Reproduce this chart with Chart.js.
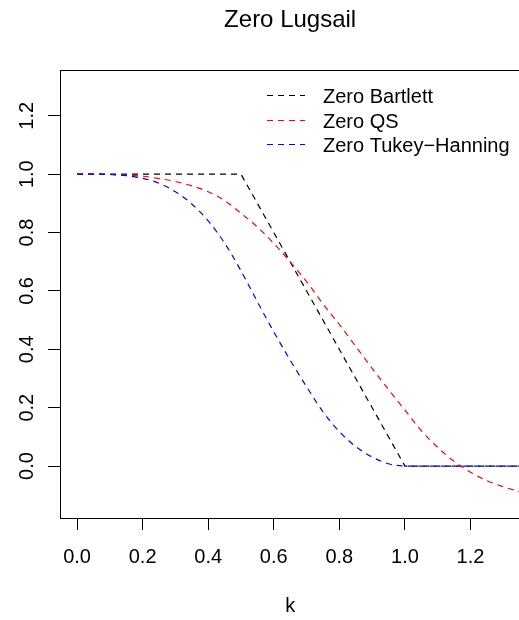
<!DOCTYPE html>
<html>
<head>
<meta charset="utf-8">
<script src="https://cdn.jsdelivr.net/npm/chart.js@4.4.1/dist/chart.umd.min.js"></script>
<style>
  html, body { margin: 0; padding: 0; background: #ffffff; }
  canvas { display: block; }
</style>
</head>
<body>
<canvas id="grafica" width="519" height="620"></canvas>
<script>
// values
const kGrid = [0, 0.05, 0.10, 0.15, 0.20, 0.25, 0.30, 0.35, 0.40, 0.45, 0.50, 0.55, 0.60, 0.65,
               0.70, 0.75, 0.80, 0.85, 0.90, 0.95, 1.00, 1.05, 1.10, 1.15, 1.20, 1.25, 1.30, 1.35];
const zeroQS = [1.000, 1.000, 0.999, 0.997, 0.993, 0.985, 0.975, 0.960, 0.940, 0.910, 0.866, 0.819, 0.763, 0.700,
                0.632, 0.556, 0.485, 0.410, 0.335, 0.262, 0.192, 0.121, 0.064, 0.016, -0.021, -0.050, -0.071, -0.088];
const zeroTukeyHanning = [1.000, 1.000, 0.999, 0.995, 0.986, 0.969, 0.940, 0.898, 0.840, 0.764, 0.669, 0.563, 0.460, 0.363,
                          0.272, 0.186, 0.118, 0.067, 0.031, 0.008, 0, 0, 0, 0, 0, 0, 0, 0];
const bartlettK = [0, 0.5, 1.0, 1.35];
const zeroBartlett = [1, 1, 0, 0];

const xTicks = [0, 0.2, 0.4, 0.6, 0.8, 1.0, 1.2];
const yTicks = [0, 0.2, 0.4, 0.6, 0.8, 1.0, 1.2];
const seriesNames = ["Zero Bartlett", "Zero QS", "Zero Tukey\u2212Hanning"];
const seriesColors = ["#000000", "#ff0000", "#0000ff"];
const chartTitle = "Zero Lugsail";
const xLabel = "k";

const FONT = '"Liberation Sans", Arial, Helvetica, sans-serif';
const DASH = [6, 5];

function pts(xs, ys) {
    return xs.map((x, i) => ({ x: x, y: ys[i] }));
}

// R-style box, rotated y labels, title and legend
const rStyle = {
    id: "rStyle",
    afterDraw(chart) {
        const ctx = chart.ctx;
        const a = chart.chartArea;
        const xs = chart.scales.x;
        const ys = chart.scales.y;
        ctx.save();

        ctx.strokeStyle = "#000";
        ctx.lineWidth = 1;
        ctx.setLineDash([]);
        ctx.beginPath();
        ctx.moveTo(a.left, Math.round(a.top) + 0.5);
        ctx.lineTo(a.right, Math.round(a.top) + 0.5);
        ctx.stroke();

        ctx.fillStyle = "#000";
        ctx.font = "20px " + FONT;
        ctx.textAlign = "center";
        ctx.textBaseline = "alphabetic";
        xTicks.forEach(v => ctx.fillText(v.toFixed(1), xs.getPixelForValue(v), 563));
        yTicks.forEach(v => {
            ctx.save();
            ctx.translate(33, ys.getPixelForValue(v));
            ctx.rotate(-Math.PI / 2);
            ctx.fillText(v.toFixed(1), 0, 0);
            ctx.restore();
        });

        const midX = xs.getPixelForValue(0.65);
        ctx.fillText(xLabel, midX, 612);
        ctx.font = "24px " + FONT;
        ctx.fillText(chartTitle, midX, 27);

        // legend
        ctx.font = "20px " + FONT;
        ctx.textAlign = "left";
        ctx.lineWidth = 1;
        seriesNames.forEach((name, i) => {
            const y = Math.round(95 + i * 24.5) + 0.5;
            ctx.strokeStyle = seriesColors[i];
            ctx.setLineDash(DASH);
            ctx.beginPath();
            ctx.moveTo(267, y);
            ctx.lineTo(305, y);
            ctx.stroke();
            ctx.fillText(name, 323, y + 7);
        });
        ctx.restore();
    }
};

let grafica = document.getElementById("grafica").getContext("2d");

var chart = new Chart(grafica, {
    type: "line",
    data: {
        datasets: [
            {
                label: seriesNames[0],
                data: pts(bartlettK, zeroBartlett),
                borderColor: seriesColors[0],
                order: 2
            },
            {
                label: seriesNames[1],
                data: pts(kGrid, zeroQS),
                borderColor: seriesColors[1],
                cubicInterpolationMode: "monotone",
                order: 1
            },
            {
                label: seriesNames[2],
                data: pts(kGrid, zeroTukeyHanning),
                borderColor: seriesColors[2],
                cubicInterpolationMode: "monotone",
                order: 0
            }
        ]
    },
    options: {
        responsive: false,
        animation: false,
        devicePixelRatio: 1,
        layout: { padding: { top: 70, left: 0, right: 0, bottom: 0 } },
        elements: {
            line: { borderWidth: 1.2, borderDash: DASH, fill: false, tension: 0 },
            point: { radius: 0 }
        },
        plugins: {
            legend: { display: false },
            title: { display: false },
            tooltip: { enabled: false }
        },
        scales: {
            x: {
                type: "linear",
                min: -0.052,
                max: 1.348,
                afterBuildTicks: s => { s.ticks = xTicks.map(v => ({ value: v })); },
                afterFit: s => { s.height = 102; },
                ticks: { display: false },
                grid: { drawOnChartArea: false, drawTicks: true, tickLength: 12, color: "#000", lineWidth: 1 },
                border: { display: true, color: "#000", width: 1 }
            },
            y: {
                type: "linear",
                min: -0.178,
                max: 1.357,
                afterBuildTicks: s => { s.ticks = yTicks.map(v => ({ value: v })); },
                afterFit: s => { s.width = 60; },
                ticks: { display: false },
                grid: { drawOnChartArea: false, drawTicks: true, tickLength: 12, color: "#000", lineWidth: 1 },
                border: { display: true, color: "#000", width: 1 }
            }
        }
    },
    plugins: [rStyle]
});
</script>
</body>
</html>
